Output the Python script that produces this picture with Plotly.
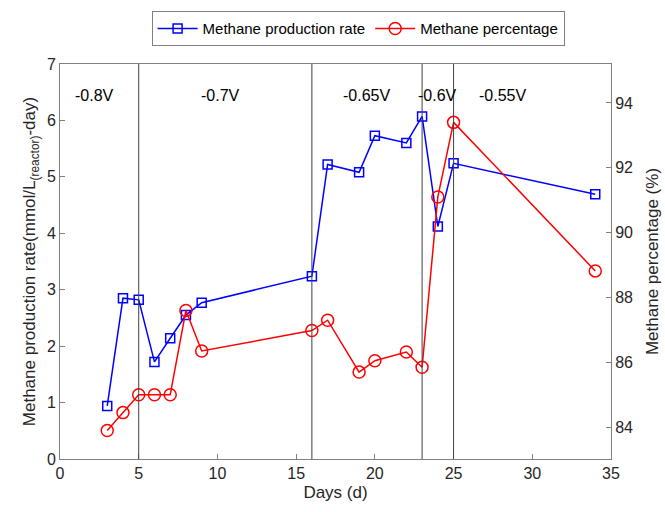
import plotly.graph_objects as go

days = [3, 4, 5, 6, 7, 8, 9, 16, 17, 19, 20, 22, 23, 24, 25, 34]
rate = [0.94, 2.85, 2.82, 1.72, 2.14, 2.55, 2.77, 3.24, 5.22, 5.08, 5.73, 5.60, 6.07, 4.12, 5.24, 4.69]
percentage = [83.9, 84.45, 85.0, 85.0, 85.0, 87.6, 86.35, 86.98, 87.3, 85.7, 86.05, 86.32, 85.85, 91.1, 93.4, 88.82]

boundaries = [5, 16, 23, 25]
phase_labels = ["-0.8V", "-0.7V", "-0.65V", "-0.6V", "-0.55V"]
phase_label_x = [2.2, 10.2, 19.5, 24.0, 28.1]

font_family = "Liberation Sans, Arial, sans-serif"
axis_col = "#808080"
text_col = "#262626"

fig = go.Figure()
fig.add_trace(go.Scatter(
    x=days, y=rate, name="Methane production rate", mode="lines+markers",
    line=dict(color="#0000ff", width=1.5),
    marker=dict(symbol="square-open", size=9, color="#0000ff", line=dict(width=1.5)),
    yaxis="y"))
fig.add_trace(go.Scatter(
    x=days, y=percentage, name="Methane percentage", mode="lines+markers",
    line=dict(color="#ff0000", width=1.5),
    marker=dict(symbol="circle-open", size=12, color="#ff0000", line=dict(width=1.5)),
    yaxis="y2"))

shapes = [dict(type="line", xref="x", yref="y", x0=b, x1=b, y0=0, y1=7,
               line=dict(color="#404040", width=1)) for b in boundaries]

annotations = [dict(x=xx, y=6.45, xref="x", yref="y", text=t, showarrow=False,
                    font=dict(size=16, color="#000000", family=font_family))
               for xx, t in zip(phase_label_x, phase_labels)]

fig.update_layout(
    width=665, height=512,
    margin=dict(l=60, r=54, t=64, b=53, autoexpand=False),
    paper_bgcolor="white", plot_bgcolor="white",
    font=dict(family=font_family, color=text_col, size=16),
    showlegend=True,
    legend=dict(orientation="h", x=0.541, xanchor="center", y=1.045, yanchor="bottom",
                bordercolor=axis_col, borderwidth=1, bgcolor="white",
                font=dict(size=15, color="#000000"), itemwidth=40,
                tracegroupgap=0),
    xaxis=dict(range=[0, 35], tickvals=[0, 5, 10, 15, 20, 25, 30, 35],
               showline=True, linecolor=axis_col, linewidth=1, mirror=True,
               ticks="inside", ticklen=5, tickcolor=axis_col,
               showgrid=False, zeroline=False,
               title=dict(text="Days (d)", font=dict(size=17), standoff=4),
               tickfont=dict(size=16)),
    yaxis=dict(range=[0, 7], tickvals=list(range(0, 8)),
               showline=True, linecolor=axis_col, linewidth=1,
               ticks="inside", ticklen=5, tickcolor=axis_col,
               showgrid=False, zeroline=False,
               title=dict(text="Methane production rate(mmol/L<sub>(reactor)</sub>-day)",
                          font=dict(size=17), standoff=6),
               tickfont=dict(size=16)),
    yaxis2=dict(range=[83.02, 95.2], tickvals=[84, 86, 88, 90, 92, 94],
                overlaying="y", side="right",
                showline=True, linecolor=axis_col, linewidth=1,
                ticks="inside", ticklen=5, tickcolor=axis_col,
                showgrid=False, zeroline=False,
                title=dict(text="Methane percentage (%)", font=dict(size=17), standoff=14),
                tickfont=dict(size=16)),
    shapes=shapes,
    annotations=annotations,
)

fig.write_html("out.html")
